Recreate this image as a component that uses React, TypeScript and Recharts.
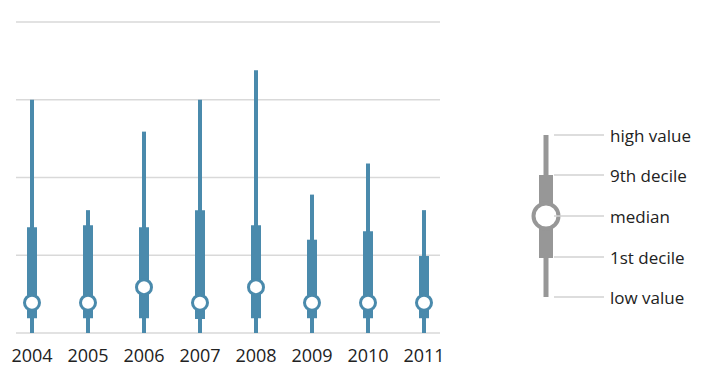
import { ComposedChart, Bar, Scatter, XAxis, YAxis, CartesianGrid } from 'recharts';

const years = [2004, 2005, 2006, 2007, 2008, 2009, 2010, 2011];
const lowValues = [0, 0, 0, 0, 0, 0, 0, 0];
const highValues = [3.0, 1.58, 2.59, 3.0, 3.38, 1.78, 2.18, 1.58];
const decile1 = [0.19, 0.19, 0.19, 0.18, 0.19, 0.19, 0.19, 0.19];
const decile9 = [1.36, 1.385, 1.36, 1.58, 1.385, 1.2, 1.31, 0.99];
const medians = [0.39, 0.39, 0.59, 0.39, 0.59, 0.39, 0.39, 0.39];
const yTicks = [0, 1, 2, 3, 4];
const legendLabels = ['high value', '9th decile', 'median', '1st decile', 'low value'];

const data = years.map((year, i) => ({
    year,
    range: [lowValues[i], highValues[i]],
    box: [decile1[i], decile9[i]],
    median: medians[i],
}));

const BLUE = '#4a8aac';
const GREY = '#979797';
const FONT = '"Open Sans", sans-serif';

const MedianDot = (props: any) => {
    const { cx, cy } = props;
    return <circle cx={cx} cy={cy} r={7.5} fill="#fff" stroke={BLUE} strokeWidth={3} />;
};

// legend glyph, drawn by hand on the right
const LegendBox = () => {
    const rows = [135, 175, 216, 257, 297];
    return (
        <svg width={190} height={366} style={{ position: 'absolute', left: 520, top: 0 }}>
            <rect x={23.5} y={135} width={5} height={162} fill={GREY} />
            <rect x={19} y={175} width={14} height={83} fill={GREY} />
            <circle cx={26} cy={216} r={12.5} fill="#fff" stroke={GREY} strokeWidth={4} />
            {rows.map((y, i) => (
                <g key={legendLabels[i]}>
                    <line x1={34} x2={84} y1={y} y2={y} stroke="#d2d2d2" strokeWidth={1.5} />
                    <text x={90} y={y} dominantBaseline="central" fontSize={17} fontFamily={FONT} fill="#222">
                        {legendLabels[i]}
                    </text>
                </g>
            ))}
        </svg>
    );
};

const App = () => {
    return (
        <div style={{ position: 'absolute', left: 0, top: 0, width: 710, height: 366, background: '#fff' }}>
            <ComposedChart width={710} height={366} data={data} margin={{ top: 22, right: 270, bottom: 3, left: 16 }}>
                <CartesianGrid vertical={false} stroke="#d9d9d9" strokeWidth={1.5} />
                <YAxis hide domain={[0, 4]} ticks={yTicks} />
                <XAxis
                    xAxisId="thin"
                    dataKey="year"
                    type="number"
                    domain={[2004 - 16 / 56, 2011 + 16 / 56]}
                    ticks={years}
                    allowDataOverflow
                    axisLine={false}
                    tickLine={false}
                    tickMargin={10}
                    tick={{ fill: '#222', fontSize: 18, fontFamily: FONT }}
                />
                <XAxis
                    xAxisId="thick"
                    orientation="top"
                    dataKey="year"
                    type="number"
                    domain={[2004 - 16 / 56, 2011 + 16 / 56]}
                    ticks={years}
                    allowDataOverflow
                    hide
                />
                <Bar xAxisId="thin" dataKey="range" fill={BLUE} barSize={4} isAnimationActive={false} />
                <Bar xAxisId="thick" dataKey="box" fill={BLUE} barSize={10} isAnimationActive={false} />
                <Scatter xAxisId="thin" dataKey="median" fill="#fff" shape={<MedianDot />} isAnimationActive={false} />
            </ComposedChart>
            <LegendBox />
        </div>
    );
};

export default App;
